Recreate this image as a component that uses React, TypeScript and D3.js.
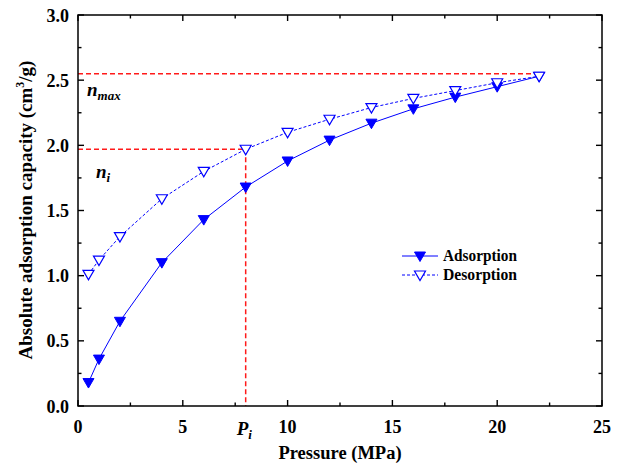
import * as d3 from 'd3';

// --- data ---
const pressures = [0.5, 1, 2, 4, 6, 8, 10, 12, 14, 16, 18, 20, 22];
const adsorption = [0.18, 0.36, 0.65, 1.1, 1.43, 1.68, 1.88, 2.04, 2.17, 2.28, 2.37, 2.45, 2.53];
const desorption = [1.01, 1.12, 1.3, 1.59, 1.8, 1.97, 2.1, 2.2, 2.29, 2.36, 2.42, 2.48, 2.53];
const xTicks = [0, 5, 10, 15, 20, 25];
const yTicks = [0, 0.5, 1.0, 1.5, 2.0, 2.5, 3.0];
const pI = 8;
const nI = 1.97;
const nMax = 2.55;
const pMaxLine = 22;

const W = 620;
const H = 468;
const font = "'Liberation Serif', 'Times New Roman', serif";

export default function App() {
  const x = d3.scaleLinear().domain([0, 25]).range([78, 602]);
  const y = d3.scaleLinear().domain([0, 3]).range([406, 15]);

  const ads = pressures.map((p, i) => [p, adsorption[i]] as [number, number]);
  const des = pressures.map((p, i) => [p, desorption[i]] as [number, number]);

  const line = d3.line<[number, number]>()
    .x(d => x(d[0]))
    .y(d => y(d[1]));

  const tri = 'M-5.5,-4L5.5,-4L0,5.5Z';

  const xMinor = d3.range(2.5, 25, 5);
  const yMinor = d3.range(0.25, 3, 0.5);
  const [x0, x1] = x.range();
  const [y0, y1] = y.range();

  return (
    <svg width={W} height={H} style={{ position: 'absolute', left: 0, top: 0, background: '#fff' }} fontFamily={font}>
      {/* red guide lines */}
      <g stroke="#ff1a1a" strokeWidth={1.5} strokeDasharray="5,3" fill="none">
        <line x1={x(0)} x2={x(pMaxLine)} y1={y(nMax)} y2={y(nMax)} />
        <line x1={x(0)} x2={x(pI)} y1={y(nI)} y2={y(nI)} />
        <line x1={x(pI)} x2={x(pI)} y1={y(nI)} y2={y(0)} />
      </g>

      {/* series lines */}
      <path d={line(ads) ?? ''} fill="none" stroke="#0000ff" strokeWidth={1} />
      <path d={line(des) ?? ''} fill="none" stroke="#0000ff" strokeWidth={1} strokeDasharray="3,2" />

      {/* markers */}
      {ads.map((d, i) => (
        <path key={'a' + i} d={tri} transform={`translate(${x(d[0])},${y(d[1])})`} fill="#0000ff" stroke="#0000ff" strokeWidth={1} />
      ))}
      {des.map((d, i) => (
        <path key={'d' + i} d={tri} transform={`translate(${x(d[0])},${y(d[1])})`} fill="#fff" stroke="#0000ff" strokeWidth={1.2} />
      ))}

      {/* frame + ticks (all inward) */}
      <rect x={x0} y={y1} width={x1 - x0} height={y0 - y1} fill="none" stroke="#000" strokeWidth={1.5} />
      <g stroke="#000" strokeWidth={1.4}>
        {xTicks.map(t => (
          <g key={'xt' + t}>
            <line x1={x(t)} x2={x(t)} y1={y0} y2={y0 - 6} />
            <line x1={x(t)} x2={x(t)} y1={y1} y2={y1 + 6} />
          </g>
        ))}
        {xMinor.map(t => (
          <g key={'xm' + t}>
            <line x1={x(t)} x2={x(t)} y1={y0} y2={y0 - 3.5} />
            <line x1={x(t)} x2={x(t)} y1={y1} y2={y1 + 3.5} />
          </g>
        ))}
        {yTicks.map(t => (
          <g key={'yt' + t}>
            <line x1={x0} x2={x0 + 6} y1={y(t)} y2={y(t)} />
            <line x1={x1} x2={x1 - 6} y1={y(t)} y2={y(t)} />
          </g>
        ))}
        {yMinor.map(t => (
          <g key={'ym' + t}>
            <line x1={x0} x2={x0 + 3.5} y1={y(t)} y2={y(t)} />
            <line x1={x1} x2={x1 - 3.5} y1={y(t)} y2={y(t)} />
          </g>
        ))}
      </g>

      {/* tick labels */}
      <g fontSize={18} fontWeight="bold" fill="#000">
        {xTicks.map(t => (
          <text key={'xl' + t} x={x(t)} y={433} textAnchor="middle">{t}</text>
        ))}
        {yTicks.map(t => (
          <text key={'yl' + t} x={69} y={y(t) + 6.5} textAnchor="end">{d3.format('.1f')(t)}</text>
        ))}
      </g>

      {/* annotations */}
      <g fontWeight="bold" fontStyle="italic" fill="#000">
        <text x={x(pI) - 9} y={435} fontSize={19}>P<tspan fontSize={13} dy={4}>i</tspan></text>
        <text x={87} y={96} fontSize={19}>n<tspan fontSize={13} dy={4}>max</tspan></text>
        <text x={96} y={178} fontSize={19}>n<tspan fontSize={13} dy={4}>i</tspan></text>
      </g>

      {/* axis titles */}
      <text x={340} y={459} textAnchor="middle" fontSize={18.5} fontWeight="bold">Pressure (MPa)</text>
      <text transform={`translate(32,210) rotate(-90)`} textAnchor="middle" fontSize={19} fontWeight="bold">
        Absolute adsorption capacity (cm<tspan fontSize={12} dy={-8}>3</tspan><tspan dy={8}>/g)</tspan>
      </text>

      {/* legend */}
      <g fontSize={16} fontWeight="bold">
        <line x1={402} x2={438} y1={256} y2={256} stroke="#0000ff" strokeWidth={1} />
        <path d={tri} transform="translate(420,256)" fill="#0000ff" stroke="#0000ff" />
        <text x={443} y={261} textLength={74} lengthAdjust="spacingAndGlyphs">Adsorption</text>
        <line x1={402} x2={438} y1={275} y2={275} stroke="#0000ff" strokeWidth={1} strokeDasharray="3,2" />
        <path d={tri} transform="translate(420,275)" fill="#fff" stroke="#0000ff" strokeWidth={1.2} />
        <text x={443} y={280} textLength={74} lengthAdjust="spacingAndGlyphs">Desorption</text>
      </g>
    </svg>
  );
}
